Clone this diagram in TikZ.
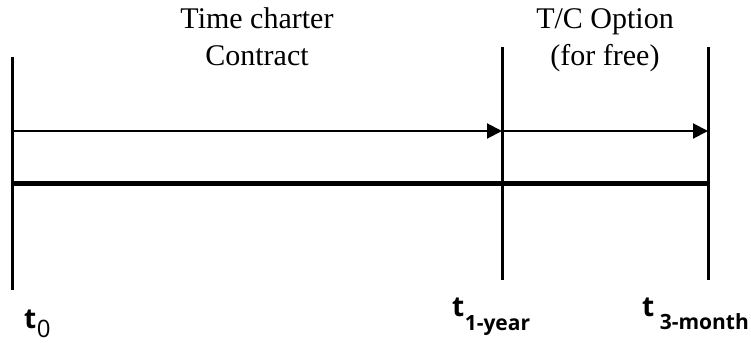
\documentclass[tikz,border=0pt]{standalone}
\usepackage{fontspec}
\setmainfont{Liberation Serif}
\newfontfamily\tlabelfont{Open Sans}
\usetikzlibrary{arrows.meta}

\tikzset{
	period/.style={font=\fontsize{30}{37}\selectfont, align=center, anchor=base, inner sep=0pt},
	tlabel/.style={font=\tlabelfont\bfseries\fontsize{28}{28}\selectfont, anchor=base west, inner sep=0pt},
	sub/.style={font=\tlabelfont\bfseries\fontsize{21}{21}\selectfont, anchor=base west, inner sep=0pt},
}

\begin{document}
\begin{tikzpicture}[x=1pt, y=-1pt, >={Triangle[length=15pt,width=15pt]}]
	\useasboundingbox (0,0) rectangle (751,343);
	% time marks
	\coordinate (s0top) at (12,57);   \coordinate (s0bot) at (12,290);
	\coordinate (s1top) at (502,47);  \coordinate (s1bot) at (502,280);
	\coordinate (s2top) at (708,47);  \coordinate (s2bot) at (708,280);
	\draw[line width=3pt] (s0top) -- (s0bot);
	\draw[line width=3pt] (s1top) -- (s1bot);
	\draw[line width=3pt] (s2top) -- (s2bot);
	% periods
	\coordinate (a0) at (12,131); \coordinate (a1) at (502,131); \coordinate (a2) at (708,131);
	\draw[->, line width=2pt] (a0) -- (a1);
	\draw[->, line width=2pt] (a1) -- (a2);
	\coordinate (b0) at (12,183); \coordinate (b2) at (708,183);
	\draw[line width=5pt] (b0) -- (b2);
	\node[period] (charter) at (257,65) {Time charter\\Contract};
	\node[period] (option) at (605,65) {T/C Option\\(for free)};
	% labels
	\node[tlabel] (t0) at (24,328) {t};
	\node[sub, font=\tlabelfont\fontsize{24}{24}\selectfont] (t0sub) at ([yshift=-9pt]t0.base east) {0};
	\node[tlabel] (t1) at (452,316) {t};
	\node[sub] (t1sub) at ([yshift=-14pt]t1.base east) {1-year};
	\node[tlabel] (t2) at (642,316) {t};
	\node[sub] (t2sub) at ([xshift=5pt,yshift=-13pt]t2.base east) {3-month};
\end{tikzpicture}
\end{document}
